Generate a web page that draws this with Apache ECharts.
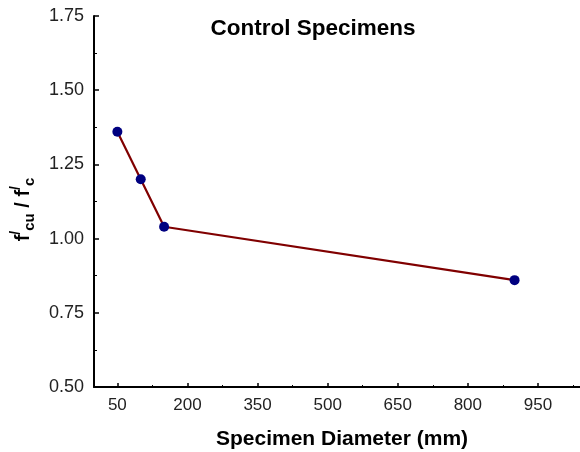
<!DOCTYPE html>
<html><head><meta charset="utf-8">
<script src="https://cdn.jsdelivr.net/npm/echarts@6/dist/echarts.min.js"></script>
<style>html,body{margin:0;padding:0;background:#fff}#c{width:580px;height:452px}</style>
</head><body><div id="c"></div>
<script>
var diameters = [50, 100, 150, 900];
var ratios = [1.36, 1.20, 1.04, 0.86];
var xMajorTicks = [50, 200, 350, 500, 650, 800, 950];
var xMinorTicks = [125, 275, 425, 575, 725, 875, 1025];
var chartTitle = 'Control Specimens';
var xTitle = 'Specimen Diameter (mm)';

var chart = echarts.init(document.getElementById('c'));
var font = 'Liberation Sans, Arial, sans-serif';
chart.setOption({
  animation: false,
  title: {text: chartTitle, left: 308, top: 12, textAlign: 'center',
    textStyle: {fontFamily: font, fontSize: 22.5, fontWeight: 'bold', color: '#000'}},
  grid: {left: 94, right: 0, top: 16, bottom: 65, containLabel: false, outerBoundsMode: 'none'},
  xAxis: [{
    type: 'value', min: 0, max: 1040,
    name: xTitle, nameLocation: 'middle', nameGap: 42,
    nameTextStyle: {fontFamily: font, fontSize: 21, fontWeight: 'bold', color: '#000', padding: [0,0,0,10]},
    axisLine: {show: true, lineStyle: {color: '#000', width: 2}},
    axisTick: {show: true, inside: true, length: 4, customValues: xMajorTicks, lineStyle: {color: '#000', width: 1.5}},
    axisLabel: {customValues: xMajorTicks, margin: 10, fontFamily: font, fontSize: 17, color: '#222'},
    splitLine: {show: false}
  }, {
    type: 'value', min: 0, max: 1040, position: 'bottom',
    axisLine: {show: false},
    axisTick: {show: true, inside: true, length: 2, customValues: xMinorTicks, lineStyle: {color: '#000', width: 1}},
    axisLabel: {show: false},
    splitLine: {show: false}
  }],
  yAxis: {
    type: 'value', min: 0.5, max: 1.75, interval: 0.25,
    name: '{f|f}{sup|/}{sub|cu}{f| / f}{sup|/}{sub|c}',
    nameLocation: 'middle', nameGap: 57, nameRotate: 90,
    nameTextStyle: {
      padding: [0, 16, 0, 0],
      rich: {
        f: {fontFamily: font, fontSize: 20, fontWeight: 'bold', color: '#000', lineHeight: 28, verticalAlign: 'middle'},
        sup: {fontFamily: font, fontSize: 14, fontWeight: 'bold', color: '#000', lineHeight: 28, verticalAlign: 'top'},
        sub: {fontFamily: font, fontSize: 15, fontWeight: 'bold', color: '#000', lineHeight: 28, verticalAlign: 'bottom'}
      }
    },
    axisLine: {show: true, lineStyle: {color: '#000', width: 2}},
    axisTick: {show: true, inside: true, length: 5, lineStyle: {color: '#000', width: 1.5}},
    minorTick: {show: true, splitNumber: 2, length: 3, lineStyle: {color: '#000', width: 1}},
    axisLabel: {margin: 10, fontFamily: font, fontSize: 18, color: '#222',
      formatter: function (v) { return v.toFixed(2); }},
    splitLine: {show: false}
  },
  series: [{
    type: 'line', xAxisIndex: 0,
    data: diameters.map(function (d, i) { return [d, ratios[i]]; }),
    symbol: 'circle', symbolSize: 10,
    lineStyle: {color: '#800000', width: 2.2},
    itemStyle: {color: '#000080'}
  }]
});
</script></body></html>
